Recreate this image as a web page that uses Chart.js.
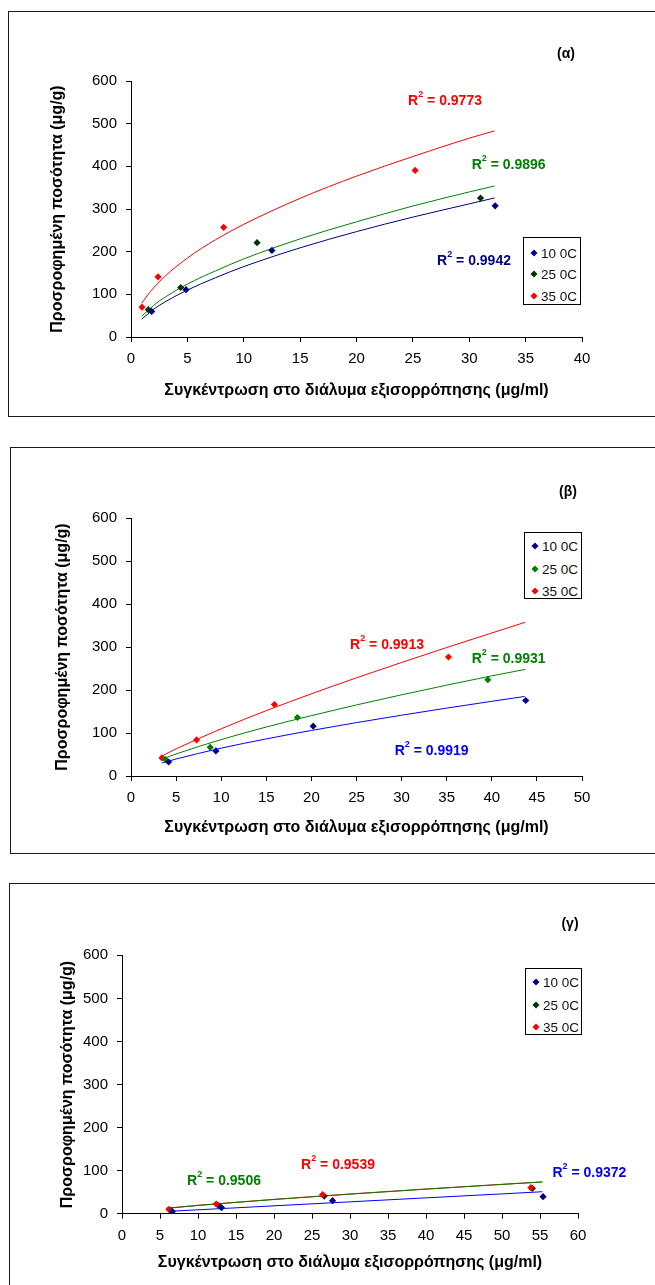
<!DOCTYPE html>
<html><head><meta charset="utf-8">
<script src="https://cdn.jsdelivr.net/npm/chart.js@4.4.1/dist/chart.umd.min.js"></script>
<style>
html,body{margin:0;padding:0;background:#fff;}
body{width:655px;height:1285px;overflow:hidden;position:relative;font-family:'Liberation Sans',Arial,sans-serif;}
.frame{position:absolute;border:1px solid #1a1a1a;box-sizing:border-box;}
canvas{position:absolute;left:0;}
.lbl{position:absolute;font-weight:bold;font-size:14px;white-space:nowrap;transform:translate(-50%,-50%);line-height:16px;}
.lbl sup{font-size:9px;vertical-align:top;position:relative;top:-2px;line-height:9px;}
.legend{position:absolute;border:1px solid #000;background:#fff;box-sizing:border-box;font-size:13.5px;}
.item{position:absolute;left:0;white-space:nowrap;}
.dia{position:absolute;width:5px;height:5px;transform:translate(-50%,-50%) rotate(45deg);}
.itxt{position:absolute;transform:translateY(-50%);line-height:15px;color:#111;white-space:nowrap;}
</style></head>
<body>
<div class="frame" style="left:8px;top:11px;width:720px;height:406px;"></div>
<div class="frame" style="left:10px;top:447px;width:720px;height:407px;"></div>
<div class="frame" style="left:9px;top:883px;width:720px;height:450px;"></div>
<canvas id="cA" width="655" height="420" style="top:0px"></canvas>
<canvas id="cB" width="655" height="420" style="top:440px"></canvas>
<canvas id="cC" width="655" height="415" style="top:870px"></canvas>
<div id="overlay"></div>
<script>
// ---- shared texts ----
const seriesNames = ['10 0C', '25 0C', '35 0C'];
const xTitle = 'Συγκέντρωση στο διάλυμα εξισορρόπησης (μg/ml)';
const yTitle = 'Προσροφημένη ποσότητα (μg/g)';
const panelLabels = ['(α)', '(β)', '(γ)'];
const yTickMax = 600, yTickStep = 100;
const xTickMaxes = [40, 50, 60];
const xTickStep = 5;

// ---- panel (α) data: [x, y] ----
const a10pts = [[1.83,60],[4.88,111],[12.5,203],[32.3,307.5]];
const a25pts = [[1.54,64],[4.41,116],[11.18,221],[31.0,325.5]];
const a35pts = [[0.98,70],[2.4,141],[8.22,257],[25.2,390.5]];
const a10fit = [[0.95,42],[1.5,54],[2,65],[3,82],[5,110],[7.5,139],[10,165],[15,209],[20,247],[25,281],[30,312],[32.25,326]];
const a25fit = [[0.95,48.5],[1.5,62],[2,74],[3,93],[5,124],[7.5,155],[10,183],[15,230],[20,270],[25,307],[30,340],[32.25,354]];
const a35fit = [[0.95,79],[1.5,99],[2,115],[3,142],[5,185],[7.5,228],[10,264],[15,325],[20,377],[25,423],[30,466],[32.25,483]];
const aR2 = ['0.9942','0.9896','0.9773'];

// ---- panel (β) data ----
const b10pts = [[4.17,32.6],[9.41,58.3],[20.2,115.8],[43.76,175.6]];
const b25pts = [[3.8,38.9],[8.78,66.8],[18.45,136],[39.56,223.8]];
const b35pts = [[3.43,42],[7.27,83.9],[15.9,166.3],[35.2,276.7]];
const b10fit = [[3.43,30.3],[5,39.5],[10,64.8],[15,86.3],[20,105.9],[25,124.2],[30,141.4],[35,157.9],[40,173.7],[43.65,185]];
const b25fit = [[3.43,38.9],[5,51.2],[10,84.7],[15,113.9],[20,140.4],[25,165.3],[30,188.8],[35,211.3],[40,232.9],[43.7,247.9]];
const b35fit = [[3.43,46.6],[5,63.1],[10,109.8],[15,152],[20,191.1],[25,228.4],[30,264],[35,298.8],[40,332.6],[43.7,357.5]];
const bR2 = ['0.9919','0.9931','0.9913'];

// ---- panel (γ) data ----
const c10pts = [[6.62,4.7],[13.1,14],[27.7,30.2],[55.4,39.5]];
const c25pts = [[6.4,8],[12.7,19],[26.6,41],[54,59]];
const c35pts = [[6.18,10],[12.4,22.5],[26.4,44.2],[53.8,60.5]];
const c10fit = [[6.05,5.4],[10,9],[20,18.3],[30,27.5],[40,36.8],[50,46],[55.3,51]];
const c25fit = [[5.83,12.4],[10,19],[20,32.9],[30,45.4],[40,57],[50,68],[55.3,73.6]];
const c35fit = [[5.83,12.8],[10,19.5],[20,33.3],[30,45.8],[40,57.3],[50,68.2],[55.3,73.8]];
const cR2 = ['0.9372','0.9506','0.9539'];

const FONT = "'Liberation Sans', Arial, sans-serif";
const TITLE_SIZE = 16;
const TITLE_HALF = TITLE_SIZE * 1.2 / 2;
const xy = arr => arr.map(([x,y]) => ({x, y}));

function pointsDs(arr, color) {
  return {data: xy(arr), showLine:false, pointStyle:'rectRot', pointRadius:3.6,
    backgroundColor:color, borderColor:color, borderWidth:0, order:0};
}
function fitDs(arr, color, order) {
  return {data: xy(arr), showLine:true, pointRadius:0, borderColor:color, borderWidth:1,
    cubicInterpolationMode:'monotone', fill:false, order:order};
}

function makeChart(id, L) {
  new Chart(document.getElementById(id), {
    type:'scatter',
    data:{datasets:L.datasets},
    options:{
      responsive:false, animation:false, devicePixelRatio:1,
      layout:{padding:{left:0, top:L.top, right:655-L.right, bottom:0}},
      plugins:{legend:{display:false}, tooltip:{enabled:false}},
      scales:{
        x:{type:'linear', min:0, max:L.xmax,
          ticks:{stepSize:xTickStep, color:'#000', padding:8, font:{family:FONT, size:15}, maxRotation:0},
          grid:{drawOnChartArea:false, drawTicks:true, tickLength:5, color:'#000'},
          border:{display:true, color:'#000', width:1},
          title:{display:true, text:xTitle, color:'#000', font:{family:FONT, size:TITLE_SIZE, weight:'bold'},
            padding:{top:0, bottom:L.h - L.xTitleY - TITLE_HALF}},
          afterFit:s=>{ s.height = L.h - L.bottom; }
        },
        y:{type:'linear', min:0, max:yTickMax,
          ticks:{stepSize:yTickStep, color:'#000', padding:9, font:{family:FONT, size:15}},
          grid:{drawOnChartArea:false, drawTicks:true, tickLength:5, color:'#000'},
          border:{display:true, color:'#000', width:1},
          title:{display:true, text:yTitle, color:'#000', font:{family:FONT, size:TITLE_SIZE, weight:'bold'},
            padding:{top:L.yTitleX - TITLE_HALF, bottom:0}},
          afterFit:s=>{ s.width = L.left; }
        }
      }
    }
  });
}

makeChart('cA', {h:420, left:131, right:582, top:81, bottom:337, xmax:xTickMaxes[0], xTitleY:390.7, yTitleX:58,
  datasets:[
    pointsDs(a10pts,'#000080'), pointsDs(a25pts,'#003300'), pointsDs(a35pts,'#ff0000'),
    fitDs(a10fit,'#000080',3), fitDs(a25fit,'#008000',2), fitDs(a35fit,'#ff0000',1)
  ]});
makeChart('cB', {h:420, left:131, right:582, top:78, bottom:336, xmax:xTickMaxes[1], xTitleY:387.7, yTitleX:62.5,
  datasets:[
    pointsDs(b10pts,'#000080'), pointsDs(b25pts,'#008000'), pointsDs(b35pts,'#ff0000'),
    fitDs(b10fit,'#0000ff',3), fitDs(b25fit,'#008000',2), fitDs(b35fit,'#ff0000',1)
  ]});
makeChart('cC', {h:415, left:122, right:578, top:85.3, bottom:343.7, xmax:xTickMaxes[2], xTitleY:393, yTitleX:68,
  datasets:[
    pointsDs(c10pts,'#000080'), pointsDs(c35pts,'#ff0000'), pointsDs(c25pts,'#003300'),
    fitDs(c10fit,'#0000ff',3), fitDs(c25fit,'#008000',1), fitDs(c35fit,'#ff0000',2)
  ]});

// ---- overlay texts: panel labels, R² labels, legends ----
const ov = document.getElementById('overlay');
function addLbl(text, x, y, color) {
  const d = document.createElement('div');
  d.className = 'lbl'; d.style.left = x+'px'; d.style.top = y+'px'; d.style.color = color;
  d.innerHTML = text; ov.appendChild(d);
}
function addR2(val, x, y, color) { addLbl('R<sup>2</sup> = ' + val, x, y, color); }
function addLegend(left, top, w, h, rows, colors) {
  const b = document.createElement('div');
  b.className = 'legend';
  Object.assign(b.style, {left:left+'px', top:top+'px', width:w+'px', height:h+'px'});
  seriesNames.forEach((n, i) => {
    const dm = document.createElement('div');
    dm.className = 'dia'; dm.style.left = '10px'; dm.style.top = rows[i]+'px'; dm.style.background = colors[i];
    const t = document.createElement('div');
    t.className = 'itxt'; t.style.left = '17px'; t.style.top = rows[i]+'px'; t.textContent = n;
    b.appendChild(dm); b.appendChild(t);
  });
  ov.appendChild(b);
}

addLbl(panelLabels[0], 566, 53, '#000');
addLbl(panelLabels[1], 568, 491, '#000');
addLbl(panelLabels[2], 570, 923, '#000');

addR2(aR2[2], 445, 100, '#ff0000');
addR2(aR2[1], 508.6, 164, '#008000');
addR2(aR2[0], 474, 260, '#000080');

addR2(bR2[2], 387, 644, '#ff0000');
addR2(bR2[1], 508.6, 658.3, '#008000');
addR2(bR2[0], 431.7, 750, '#0000ff');

addR2(cR2[1], 224, 1180, '#008000');
addR2(cR2[2], 338, 1164, '#ff0000');
addR2(cR2[0], 589.4, 1172.3, '#0000ff');

addLegend(523, 237, 58, 68, [14.7, 36.3, 58.3], ['#000080','#003300','#ff0000']);
addLegend(524, 532, 58, 67, [13, 35.7, 58], ['#000080','#008000','#ff0000']);
addLegend(525, 968, 57, 67, [12.7, 35.7, 57.7], ['#000080','#003300','#ff0000']);
</script>
</body></html>
